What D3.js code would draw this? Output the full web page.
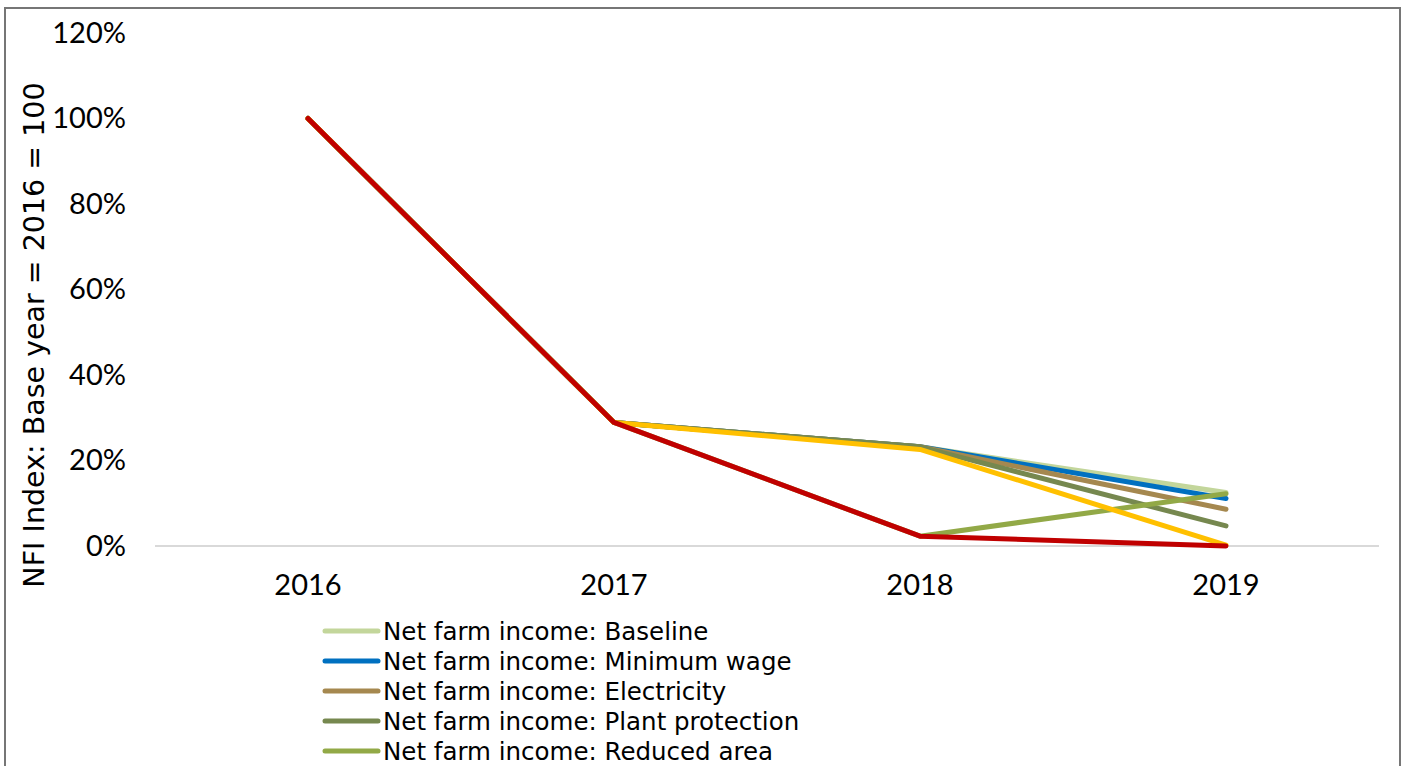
<!DOCTYPE html>
<html>
<head>
<meta charset="utf-8">
<script src="https://cdn.jsdelivr.net/npm/d3@7"></script>
<style>
  html, body { margin: 0; padding: 0; background: #fff; }
  svg { display: block; }
  text { font-family: "DejaVu Sans", sans-serif; fill: #000; }
  .axis text { font-family: "Lato", sans-serif; font-size: 29px; fill: #000; }
</style>
</head>
<body>
<svg id="chart" width="1405" height="766"></svg>
<script>
// Years on the category axis
const years = ["2016", "2017", "2018", "2019"];

// Net farm income index per scenario (percent of 2016)
const baseline       = [100, 28.9, 23.2, 12.5];
const minimumWage    = [100, 28.9, 23.2, 11.1];
const electricity    = [100, 28.9, 23.2, 8.6];
const plantProtection= [100, 28.9, 23.2, 4.7];
const reducedArea    = [100, 28.9, 2.3, 12.2];
const scenarioSix    = [100, 28.9, 22.6, 0.2];
const scenarioSeven  = [100, 28.9, 2.3, 0];

const seriesNames = [
  "Net farm income: Baseline",
  "Net farm income: Minimum wage",
  "Net farm income: Electricity",
  "Net farm income: Plant protection",
  "Net farm income: Reduced area",
  "Scenario 6",
  "Scenario 7"
];
const seriesValues = [baseline, minimumWage, electricity, plantProtection, reducedArea, scenarioSix, scenarioSeven];
const seriesColors = ["#C3D69B", "#0070C0", "#A5884F", "#76884F", "#92A947", "#FFC000", "#C00000"];
const legendCount = 5;

const yTicks = [0, 20, 40, 60, 80, 100, 120];
const yTitle = "NFI Index: Base year = 2016 = 100";

const svg = d3.select("#chart");

// chart frame
svg.append("rect")
  .attr("x", 5).attr("y", 8)
  .attr("width", 1395).attr("height", 800)
  .attr("fill", "#fff")
  .attr("stroke", "#767676").attr("stroke-width", 2);

const x = d3.scaleBand().domain(years).range([155, 1379]);
const y = d3.scaleLinear().domain([0, 120]).range([546, 33]);

// zero baseline
svg.append("line")
  .attr("x1", 155).attr("x2", 1379)
  .attr("y1", y(0)).attr("y2", y(0))
  .attr("stroke", "#D9D9D9").attr("stroke-width", 2);

// y axis labels
const yAxis = d3.axisLeft(y).tickValues(yTicks).tickSize(0).tickPadding(0)
  .tickFormat(d => d + "%");
const gy = svg.append("g").attr("class", "axis").attr("transform", "translate(126,0)").call(yAxis);
gy.select(".domain").remove();
gy.attr("font-family", null).attr("font-size", null);

// x axis labels
const xAxis = d3.axisBottom(x).tickSize(0).tickPadding(0);
const gx = svg.append("g").attr("class", "axis").attr("transform", "translate(0,574)").call(xAxis);
gx.select(".domain").remove();
gx.attr("font-family", null).attr("font-size", null);

// y axis title
svg.append("text")
  .attr("transform", "translate(44,335) rotate(-90)")
  .attr("text-anchor", "middle")
  .attr("font-size", 28.5)
  .text(yTitle);

// lines
const line = d3.line()
  .x((d, i) => x(years[i]) + x.bandwidth() / 2)
  .y(d => y(d));

svg.append("g").selectAll("path")
  .data(seriesValues)
  .join("path")
  .attr("d", d => line(d))
  .attr("fill", "none")
  .attr("stroke", (d, i) => seriesColors[i])
  .attr("stroke-width", 5)
  .attr("stroke-linejoin", "round")
  .attr("stroke-linecap", "round");

// legend
const legend = svg.append("g");
const items = legend.selectAll("g")
  .data(seriesNames.slice(0, legendCount))
  .join("g")
  .attr("transform", (d, i) => `translate(325,${631 + i * 30})`);
items.append("line")
  .attr("x1", 0).attr("x2", 53)
  .attr("stroke", (d, i) => seriesColors[i])
  .attr("stroke-width", 5)
  .attr("stroke-linecap", "round");
items.append("text")
  .attr("x", 58).attr("dy", "0.35em")
  .attr("font-size", 24.5)
  .text(d => d);
</script>
</body>
</html>
